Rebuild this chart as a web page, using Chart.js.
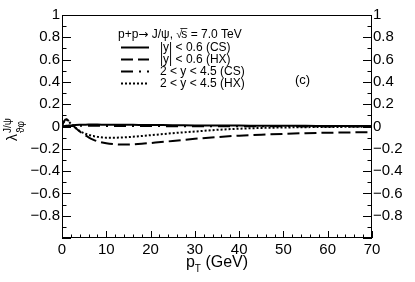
<!DOCTYPE html>
<html>
<head>
<meta charset="utf-8">
<script src="https://cdn.jsdelivr.net/npm/chart.js@4.4.0/dist/chart.umd.min.js"></script>
<style>
  html, body { margin: 0; padding: 0; background: #fff; }
</style>
</head>
<body>
<canvas id="chart" width="415" height="282"></canvas>
<script>
// pT grid (GeV) and lambda_theta_phi curves
const pT = [0, 0.5, 1, 1.5, 2, 3, 4, 5, 6, 7, 8, 10, 12, 14, 16, 18, 20, 25, 30, 35, 40, 45, 50, 55, 60, 65, 70];

const csMid = [0, 0.003, 0.006, 0.008, 0.01, 0.013, 0.015, 0.016, 0.017, 0.017, 0.017, 0.016, 0.016, 0.015, 0.015, 0.014, 0.013, 0.012, 0.01, 0.009, 0.008, 0.007, 0.006, 0.006, 0.005, 0.005, 0.004];
const hxMid = [0, 0.05, 0.065, 0.05, 0.03, -0.01, -0.045, -0.072, -0.097, -0.117, -0.132, -0.15, -0.159, -0.162, -0.16, -0.155, -0.148, -0.13, -0.11, -0.095, -0.082, -0.073, -0.066, -0.06, -0.056, -0.053, -0.05];
const csFwd = [0, 0.001, 0.002, 0.003, 0.004, 0.005, 0.006, 0.006, 0.006, 0.006, 0.006, 0.005, 0.005, 0.005, 0.004, 0.004, 0.004, 0.003, 0.003, 0.003, 0.002, 0.002, 0.002, 0.001, 0.001, 0.001, 0.001];
const hxFwd = [0, 0.045, 0.06, 0.045, 0.025, -0.01, -0.04, -0.06, -0.075, -0.085, -0.093, -0.1, -0.1, -0.097, -0.092, -0.085, -0.078, -0.06, -0.045, -0.03, -0.02, -0.013, -0.009, -0.006, -0.004, -0.003, -0.002];

const seriesLabels = ['|y| < 0.6 (CS)', '|y| < 0.6 (HX)', '2 < y < 4.5 (CS)', '2 < y < 4.5 (HX)'];
const seriesValues = [csMid, hxMid, csFwd, hxFwd];
const dashes = [[], [12, 5], [12, 6, 2, 6], [2, 2]];

const xTicks = [0, 10, 20, 30, 40, 50, 60, 70];
const yTicks = [-1, -0.8, -0.6, -0.4, -0.2, 0, 0.2, 0.4, 0.6, 0.8, 1];

const FONT = 'Liberation Sans, Arial, Helvetica, sans-serif';

function fmtY(v) {
  if (Math.abs(v + 1) < 1e-9) return '';
  if (Math.abs(v) < 1e-9) return '0';
  if (Math.abs(v - 1) < 1e-9) return '1';
  return (v < 0 ? '\u2212' : '') + Math.abs(v).toFixed(1);
}

// frame, inside ticks, axis titles, legend
const decor = {
  id: 'decor',
  afterDraw(chart) {
    const ctx = chart.ctx;
    const a = chart.chartArea;
    const xs = chart.scales.x, ys = chart.scales.y;
    ctx.save();
    ctx.strokeStyle = '#000';
    ctx.lineWidth = 1;
    ctx.strokeRect(a.left + 0.5, a.top + 0.5, a.right - a.left - 1, a.bottom - a.top - 1);

    ctx.beginPath();
    // x ticks every 2, major every 10
    for (let v = 0; v <= 70; v += 2) {
      const px = Math.round(xs.getPixelForValue(v)) + 0.5;
      const len = v % 10 === 0 ? 7 : 3.5;
      ctx.moveTo(px, a.bottom);
      ctx.lineTo(px, a.bottom - len);
    }
    // y ticks every 0.1, major every 0.2, both sides
    for (let i = -10; i <= 10; i++) {
      const py = Math.round(ys.getPixelForValue(i / 10)) + 0.5;
      const len = i % 2 === 0 ? 9 : 4.5;
      ctx.moveTo(a.left, py);
      ctx.lineTo(a.left + len, py);
      ctx.moveTo(a.right, py);
      ctx.lineTo(a.right - len, py);
    }
    ctx.stroke();

    ctx.fillStyle = '#000';
    ctx.textBaseline = 'alphabetic';
    ctx.textAlign = 'left';

    // x title: p_T (GeV)
    ctx.font = '16px ' + FONT;
    const wp = ctx.measureText('p').width;
    const wg = ctx.measureText(' (GeV)').width;
    ctx.font = '10px ' + FONT;
    const wt = ctx.measureText('T').width;
    let x0 = (a.left + a.right) / 2 - (wp + wt + wg) / 2;
    ctx.font = '16px ' + FONT;
    ctx.fillText('p', x0, 267);
    ctx.font = '10px ' + FONT;
    ctx.fillText('T', x0 + wp, 272);
    ctx.font = '16px ' + FONT;
    ctx.fillText(' (GeV)', x0 + wp + wt, 267);

    // y title
    ctx.save();
    ctx.translate(17, 141);
    ctx.rotate(-Math.PI / 2);
    ctx.font = '14px ' + FONT;
    ctx.fillText('\u03bb', 0, 0);
    const wl = ctx.measureText('\u03bb').width;
    ctx.font = '10px ' + FONT;
    ctx.fillText('\u03d1\u03c6', wl + 1, 7);
    ctx.fillText('J/\u03c8', wl + 1, -6);
    ctx.restore();

    // legend
    ctx.font = '12px ' + FONT;
    ctx.textBaseline = 'middle';
    let hx = 118, hy = 35;
    ctx.fillText('p+p', hx, hy);
    hx += ctx.measureText('p+p').width;
    ctx.font = '12px DejaVu Sans, sans-serif';
    ctx.fillText('\u2192', hx, hy);
    hx += ctx.measureText('\u2192').width;
    ctx.font = '12px ' + FONT;
    const part1 = ' J/\u03c8, ';
    ctx.fillText(part1, hx, hy);
    hx += ctx.measureText(part1).width;
    ctx.font = '11px ' + FONT;
    ctx.fillText('\u221a', hx, hy);
    hx += ctx.measureText('\u221a').width - 1;
    ctx.font = '12px ' + FONT;
    const ws = ctx.measureText('s').width;
    ctx.fillText('s', hx, hy);
    ctx.beginPath();
    ctx.moveTo(hx - 1, hy - 6.5);
    ctx.lineTo(hx + ws, hy - 6.5);
    ctx.lineWidth = 0.8;
    ctx.stroke();
    hx += ws;
    ctx.fillText(' = 7.0 TeV', hx, hy);

    const rowsY = [47.5, 59.5, 71.5, 83.5];
    seriesLabels.forEach((lab, i) => {
      const y = rowsY[i];
      ctx.beginPath();
      ctx.setLineDash(dashes[i]);
      ctx.lineWidth = 2;
      ctx.moveTo(121, y);
      ctx.lineTo(149, y);
      ctx.stroke();
      ctx.setLineDash([]);
      ctx.fillText(lab, 160, y);
    });

    ctx.font = '13px ' + FONT;
    ctx.fillText('(c)', 295, 80);
    ctx.restore();
  }
};

new Chart(document.getElementById('chart'), {
  type: 'line',
  data: {
    datasets: seriesValues.map((vals, i) => ({
      label: seriesLabels[i],
      data: pT.map((p, k) => ({ x: p, y: vals[k] })),
      borderColor: '#000',
      borderWidth: 2,
      borderDash: dashes[i],
      pointRadius: 0,
      fill: false,
      cubicInterpolationMode: 'monotone'
    }))
  },
  options: {
    responsive: false,
    devicePixelRatio: 1,
    animation: false,
    layout: { padding: { top: 15, left: 0, right: 0, bottom: 0 } },
    plugins: { legend: { display: false }, tooltip: { enabled: false } },
    scales: {
      x: {
        type: 'linear', min: 0, max: 70,
        afterBuildTicks: s => { s.ticks = xTicks.map(v => ({ value: v })); },
        afterFit: s => { s.height = 44; },
        grid: { display: false, drawTicks: false },
        border: { display: false },
        ticks: { color: '#000', font: { family: FONT, size: 15 }, padding: 3, maxRotation: 0 }
      },
      y: {
        type: 'linear', position: 'left', min: -1, max: 1,
        afterBuildTicks: s => { s.ticks = yTicks.map(v => ({ value: v })); },
        afterFit: s => { s.width = 62; },
        grid: { display: false, drawTicks: false },
        border: { display: false },
        ticks: { color: '#000', font: { family: FONT, size: 15 }, padding: 2, callback: fmtY }
      },
      y2: {
        type: 'linear', position: 'right', min: -1, max: 1,
        afterBuildTicks: s => { s.ticks = yTicks.map(v => ({ value: v })); },
        afterFit: s => { s.width = 43; },
        grid: { display: false, drawTicks: false },
        border: { display: false },
        ticks: { color: '#000', font: { family: FONT, size: 15 }, padding: 1, callback: fmtY }
      }
    }
  },
  plugins: [decor]
});
</script>
</body>
</html>
